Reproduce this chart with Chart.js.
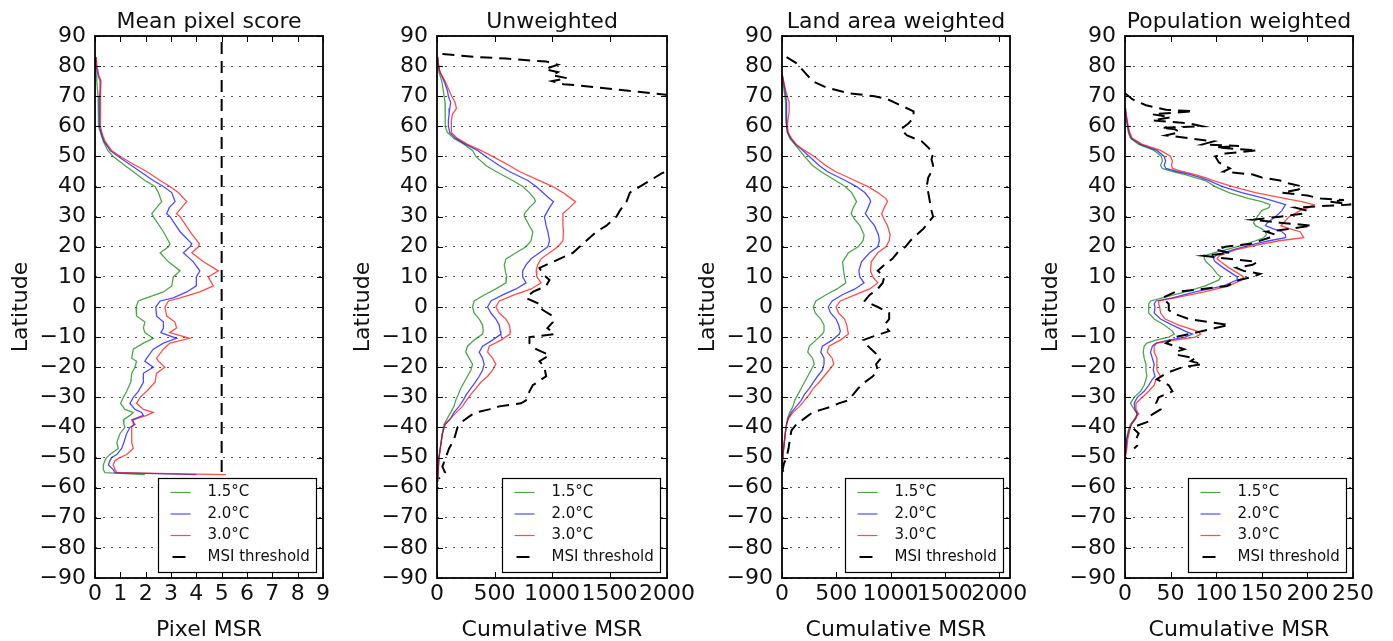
<!DOCTYPE html>
<html>
<head>
<meta charset="utf-8">
<script src="https://cdn.jsdelivr.net/npm/chart.js@4.4.1/dist/chart.umd.min.js"></script>
<style>
html, body { margin: 0; padding: 0; background: #fff; width: 1393px; height: 641px; overflow: hidden; }
canvas { position: absolute; top: 0; }
</style>
</head>
<body>
<canvas id="p1" width="370" height="641" style="left:0px"></canvas>
<canvas id="p2" width="370" height="641" style="left:342px"></canvas>
<canvas id="p3" width="370" height="641" style="left:687px"></canvas>
<canvas id="p4" width="363" height="641" style="left:1030px"></canvas>
<script>
const FONT = '"DejaVu Sans", "Liberation Sans", sans-serif';
const TXT = '#111';

const seriesNames = ['1.5°C', '2.0°C', '3.0°C', 'MSI threshold'];
const seriesColors = ['rgba(0,128,0,0.7)', 'rgba(0,0,255,0.7)', 'rgba(255,0,0,0.7)', '#000'];

const latTicks = [-90, -80, -70, -60, -50, -40, -30, -20, -10, 0, 10, 20, 30, 40, 50, 60, 70, 80, 90];
const xTicks1 = [0, 1, 2, 3, 4, 5, 6, 7, 8, 9];
const xTicks2 = [0, 500, 1000, 1500, 2000];
const xTicks3 = [0, 500, 1000, 1500, 2000];
const xTicks4 = [0, 50, 100, 150, 200, 250];

// Panel 1: mean pixel score
const lat1 = [83, 80, 77, 75, 72, 70, 65, 60, 57, 55, 52, 50, 47.5, 45, 42, 40, 38, 35, 33, 31, 30, 25, 21, 20, 18, 15, 12, 10, 7, 5, 3, 2, 0,
  -3, -5, -7, -8.5, -10.4, -12, -14, -17, -18, -20, -22, -25, -28, -30, -32, -34, -35, -36, -37.5, -39, -40, -42, -45, -47, -49, -50, -51, -52.5, -54, -55, -55.7];
const g1 = [0.02, 0.03, 0.05, 0.07, 0.1, 0.12, 0.13, 0.15, 0.25, 0.33, 0.5, 0.72, 1.1, 1.5, 1.97, 2.37, 2.5, 2.63, 2.43, 2.24, 2.3, 2.7, 2.96, 2.9, 2.57, 2.9, 3.36, 3.09, 3.03, 2.7, 2.04, 1.71, 1.62,
  1.64, 1.97, 1.91, 1.97, 2.3, 1.91, 1.51, 1.45, 1.64, 1.58, 1.45, 1.41, 1.25, 1.12, 1.01, 1.18, 1.51, 1.38, 1.12, 1.14, 1.18, 0.99, 0.86, 0.92, 0.59, 0.46, 0.39, 0.33, 0.33, 0.39, 1.97];
const b1 = [0.03, 0.05, 0.12, 0.2, 0.2, 0.18, 0.17, 0.18, 0.27, 0.36, 0.6, 0.92, 1.35, 1.78, 2.3, 2.7, 3.03, 3.16, 2.93, 2.83, 2.96, 3.36, 3.82, 3.75, 3.49, 3.88, 4.14, 4.0, 4.0, 3.62, 3.09, 2.57, 2.4,
  2.43, 2.7, 2.7, 2.6, 3.22, 2.7, 2.3, 2.04, 1.97, 2.3, 1.91, 1.91, 1.71, 1.51, 1.38, 1.58, 1.84, 1.91, 1.45, 1.58, 1.38, 1.25, 1.14, 1.05, 0.86, 0.66, 0.59, 0.53, 0.72, 0.79, 4.0];
const r1 = [0.05, 0.08, 0.15, 0.24, 0.22, 0.22, 0.2, 0.22, 0.3, 0.4, 0.65, 1.0, 1.5, 2.04, 2.57, 2.96, 3.29, 3.62, 3.42, 3.22, 3.36, 3.75, 4.12, 4.08, 3.82, 4.28, 4.87, 4.47, 4.67, 4.14, 3.36, 2.9, 2.76,
  2.83, 3.16, 3.22, 2.95, 3.73, 2.96, 2.7, 2.43, 2.5, 2.76, 2.43, 2.37, 2.04, 1.78, 1.64, 1.91, 2.3, 2.04, 1.51, 1.51, 1.45, 1.45, 1.45, 1.51, 1.25, 0.99, 0.79, 0.72, 0.79, 0.86, 5.17];
const msiLat1 = [88, -56];
const msi1 = [5, 5];

// Panel 2: unweighted cumulative
const lat2 = [83, 80, 78, 75, 72, 70, 68, 66, 64, 62, 60, 58, 56, 54, 52, 50, 47, 45, 42, 40, 38, 36, 35, 33, 31, 30, 27, 25, 22, 20, 18, 16, 14, 12, 10, 8, 6, 4, 2, 0,
  -2, -4, -6, -8, -9, -11, -13, -15, -17, -19, -21, -23, -25, -27, -29, -31, -33, -35, -37, -39, -42, -46, -50, -55, -58];
const g2 = [5, 10, 17, 41, 55, 61, 70, 70, 70, 70, 76, 90, 148, 236, 309, 338, 425, 512, 658, 745, 803, 847, 856, 803, 760, 760, 803, 833, 818, 774, 687, 600, 585, 594, 606, 600, 512, 410, 323, 309,
  323, 367, 396, 402, 396, 323, 265, 250, 279, 309, 294, 265, 236, 207, 186, 163, 148, 119, 90, 61, 47, 32, 17, 9, 6];
const b2 = [5, 15, 26, 61, 90, 99, 119, 111, 105, 99, 99, 111, 163, 250, 352, 425, 541, 629, 789, 862, 920, 978, 1013, 978, 949, 934, 949, 964, 978, 964, 891, 818, 774, 745, 745, 774, 687, 571, 469, 440,
  469, 512, 541, 550, 556, 483, 396, 367, 396, 410, 396, 367, 332, 294, 256, 227, 192, 148, 119, 70, 47, 32, 17, 9, 6];
const r2 = [5, 15, 26, 70, 105, 128, 157, 169, 134, 125, 122, 128, 178, 265, 381, 483, 629, 716, 891, 1007, 1095, 1167, 1205, 1153, 1095, 1095, 1095, 1100, 1095, 1051, 978, 905, 876, 862, 868, 905, 818, 672, 541, 512,
  541, 600, 629, 638, 635, 556, 454, 440, 483, 512, 483, 440, 381, 338, 294, 256, 221, 169, 119, 70, 47, 32, 17, 9, 6];
const msiLat2 = [84, 83, 82.5, 81.5, 80.5, 79, 78, 77, 76, 75, 74, 73.5, 72.5, 71.5, 70.5, 69, 46, 44.5, 42, 40, 38, 35, 32, 30, 27, 25, 22, 20, 18, 16, 14, 13, 11, 9, 7, 5, 3, 1, 0,
  -1, -3, -5, -7, -9, -10, -12, -14, -16, -18, -20, -23, -26, -28, -31, -32, -33, -34, -35, -36, -38, -40, -42, -44, -47, -50, -53, -55, -57];
const msi2 = [47, 350, 600, 950, 1050, 940, 1050, 1000, 1130, 1000, 1100, 1250, 1500, 1750, 1990, 2300, 2100, 1960, 1852, 1764, 1677, 1648, 1590, 1560, 1473, 1386, 1298, 1240, 1182, 1066, 949, 891, 920, 978, 949, 833, 774, 891, 891,
  920, 1007, 1007, 960, 1022, 804, 804, 862, 978, 891, 934, 949, 833, 804, 774, 731, 541, 454, 338, 294, 221, 178, 163, 148, 105, 76, 47, 70, 17];

// Panel 3: land area weighted cumulative
const lat3 = [77, 72, 70, 68, 65, 62, 60, 58, 56, 54, 52, 50, 47, 45, 42, 40, 38, 36, 35, 33, 31, 29, 27, 24, 22, 20, 18, 15, 12, 10, 8, 6, 4, 2, 0,
  -2, -4, -6, -8, -9, -11, -13, -15, -17, -19, -21, -23, -25, -27, -29, -31, -33, -35, -37, -39, -42, -46, -50, -55];
const g3 = [3, 18, 27, 33, 33, 36, 42, 48, 72, 117, 162, 207, 282, 357, 492, 582, 642, 672, 687, 657, 636, 672, 717, 756, 747, 702, 612, 558, 567, 576, 588, 507, 402, 312, 288,
  306, 357, 387, 387, 372, 312, 252, 237, 282, 297, 267, 237, 207, 177, 147, 117, 102, 72, 51, 42, 30, 18, 6, 3];
const b3 = [3, 27, 36, 42, 42, 42, 42, 51, 81, 126, 192, 252, 342, 417, 582, 687, 762, 807, 816, 792, 768, 807, 852, 888, 897, 882, 807, 732, 708, 717, 756, 672, 552, 462, 426,
  447, 498, 522, 537, 528, 462, 372, 357, 387, 387, 372, 327, 288, 252, 207, 177, 132, 87, 57, 42, 30, 18, 6, 3];
const r3 = [3, 33, 48, 66, 66, 54, 51, 57, 87, 132, 207, 297, 402, 492, 672, 792, 882, 957, 972, 942, 918, 942, 972, 996, 987, 957, 882, 822, 816, 837, 882, 807, 672, 537, 498,
  522, 576, 597, 606, 612, 537, 432, 417, 462, 477, 432, 387, 342, 288, 252, 207, 162, 102, 60, 42, 30, 18, 6, 3];
const msiLat3 = [83, 81, 78, 75, 73, 71, 70, 69, 67, 65, 63, 61, 59, 57, 55, 53, 51, 49, 47, 45, 43, 40, 38, 35, 32, 30, 28, 26, 24, 22, 20, 18, 16, 14, 12, 10, 8, 6, 4, 2, 0,
  -2, -4, -6, -8, -10, -11, -13, -15, -17, -19, -21, -23, -25, -27, -29, -31, -32, -33, -34, -35, -37, -39, -41, -44, -47, -50, -52, -54, -55];
const msi3 = [42, 132, 207, 282, 402, 612, 852, 972, 1092, 1212, 1212, 1167, 1092, 1152, 1287, 1347, 1392, 1377, 1392, 1377, 1347, 1332, 1347, 1362, 1377, 1392, 1347, 1302, 1242, 1182, 1137, 1062, 1017, 942, 882, 942, 927, 882, 807, 762, 882,
  987, 987, 942, 987, 822, 747, 792, 852, 912, 867, 882, 837, 762, 702, 657, 612, 522, 462, 372, 282, 207, 132, 87, 72, 60, 42, 18, 6, 15];

// Panel 4: population weighted cumulative
const lat4 = [66, 63, 61, 58, 56, 54, 52, 50, 48.5, 47, 46, 45, 44, 43, 42, 40, 38, 36, 35, 34, 33, 32, 30, 28, 27, 26, 25, 24, 23, 22, 20.5, 19, 18, 17, 16, 15, 13, 11, 10, 9, 7, 5, 3, 2, 1, 0,
  -2, -4, -6, -8, -9, -10, -11, -12, -13, -15, -17, -19, -21, -23, -24, -26, -28, -30, -32, -34, -35.5, -37, -39, -41, -44, -47, -50];
const g4 = [0, 1, 2, 3.6, 6, 15, 32, 40, 41, 39, 41, 52, 66, 77, 88, 99, 114, 136, 150, 159, 158, 150, 145, 141, 143, 150, 154, 155, 152, 143, 128, 110, 97, 87, 87, 89, 96, 101, 105, 103, 88, 66, 41, 28, 26, 26,
  26, 32, 43, 52, 54, 48, 34, 24, 21, 20, 21, 23, 23, 24, 23, 21, 17, 10, 6, 10, 13.5, 11, 6, 3.6, 1.5, 1, 0];
const b4 = [0, 1.5, 2.5, 4.4, 7, 17, 35, 43, 44.5, 43, 45, 57, 72, 83, 92, 107, 128, 154, 165, 176, 174, 172, 165, 156, 154, 162, 172, 176, 176, 158, 136, 118, 108, 99, 97, 99, 108, 118, 123, 123, 108, 77, 52, 34, 32, 33,
  32, 39, 52, 66, 74, 66, 48, 34, 30, 28, 30, 32, 31, 33, 30, 26, 21, 13.5, 10, 11, 13.5, 12, 7, 4.4, 2, 1.5, 0];
const r4 = [0, 2, 3, 5, 8, 19, 39, 50, 52, 51, 52, 63, 77, 88, 97, 118, 143, 176, 194, 207, 201, 192, 180, 174, 171, 180, 192, 194, 196, 169, 143, 121, 112, 103, 101, 105, 114, 125, 130, 128, 114, 87, 55, 37, 37, 38,
  39, 44, 59, 79, 83, 77, 55, 35, 32, 32, 35, 35, 35, 39, 34, 32, 26, 19, 12, 12, 15, 11, 7, 5, 3, 2, 0.5];
const msiLat4 = [71, 69, 68, 67, 65.5, 65, 64, 63, 62, 61, 60, 59.5, 59, 58, 57, 55, 54, 53.5, 53, 52, 51, 50, 48, 46, 45, 44, 43, 42, 41, 40, 39, 38, 37, 36, 35.5, 35, 34, 33.5, 33, 32, 31, 30, 29, 28, 27, 26, 25, 24, 23, 21, 20, 19, 18, 17, 16, 15, 14, 13, 12, 11, 10, 9, 7, 6, 5, 3, 1, 0,
  -1, -2, -4, -5, -6, -7, -9, -10, -12, -14, -15, -16, -17, -18, -19, -20, -22, -24, -26, -28, -30, -32, -34, -36, -38, -40, -42, -44, -46, -47];
const msi4 = [0, 8, 15, 23, 45, 75, 30, 50, 30, 70, 85, 40, 55, 60, 45, 97, 85, 125, 100, 145, 110, 99, 103, 115, 108, 140, 150, 170, 180, 195, 190, 172, 200, 215, 240, 225, 248, 215, 187, 200, 195, 170, 140, 170, 205, 182, 155, 165, 158, 138, 110, 100, 115, 86, 114, 145, 140, 122, 130, 148, 140, 125, 112, 85, 55, 41, 48, 48,
  48, 52, 70, 92, 114, 99, 70, 55, 45, 65, 55, 59, 77, 72, 85, 63, 45, 35, 48, 52, 37, 34, 39, 28, 26, 8, 15, 12, 13.5, 10];

function pts(lat, vals) {
  return vals.map((v, i) => ({ x: v, y: lat[i] }));
}

function fmtNum(v) {
  return v < 0 ? '\u2212' + Math.abs(v) : String(v);
}

// frame, inward ticks, title and an in-axes legend like matplotlib draws
const decor = {
  id: 'decor',
  afterDraw(chart) {
    const ctx = chart.ctx;
    const a = chart.chartArea;
    const xs = chart.scales.x, ys = chart.scales.y;
    ctx.save();
    ctx.strokeStyle = '#000';
    ctx.lineWidth = 1;
    ctx.beginPath();
    xs.ticks.forEach(t => {
      const px = Math.round(xs.getPixelForValue(t.value)) + 0.5;
      ctx.moveTo(px, a.bottom); ctx.lineTo(px, a.bottom - 6);
      ctx.moveTo(px, a.top); ctx.lineTo(px, a.top + 6);
    });
    ys.ticks.forEach(t => {
      const py = Math.round(ys.getPixelForValue(t.value)) + 0.5;
      ctx.moveTo(a.left, py); ctx.lineTo(a.left + 6, py);
      ctx.moveTo(a.right, py); ctx.lineTo(a.right - 6, py);
    });
    ctx.stroke();

    // legend box
    const w = 158, h = 94;
    const bx = Math.round(a.right - 7 - w) + 0.5, by = Math.round(a.bottom - 6 - h) + 0.5;
    ctx.fillStyle = '#fff';
    ctx.fillRect(bx, by, w, h);
    ctx.strokeStyle = '#000';
    ctx.lineWidth = 1.2;
    ctx.strokeRect(bx, by, w, h);
    ctx.font = '15px ' + FONT;
    ctx.textBaseline = 'middle';
    ctx.textAlign = 'left';
    seriesNames.forEach((name, i) => {
      const yy = by + 14 + i * 21.5;
      ctx.beginPath();
      ctx.strokeStyle = seriesColors[i];
      if (i === 3) {
        ctx.lineWidth = 2;
        ctx.moveTo(bx + 14, yy); ctx.lineTo(bx + 27, yy);
      } else {
        ctx.lineWidth = 1.2;
        ctx.moveTo(bx + 12, yy); ctx.lineTo(bx + 32, yy);
      }
      ctx.stroke();
      ctx.fillStyle = TXT;
      ctx.fillText(name, bx + 49, yy);
    });

    // frame
    ctx.strokeStyle = '#000';
    ctx.lineWidth = 1.8;
    ctx.strokeRect(a.left, a.top, a.right - a.left, a.bottom - a.top);

    // title
    ctx.fillStyle = TXT;
    ctx.font = '22px ' + FONT;
    ctx.textAlign = 'center';
    ctx.textBaseline = 'alphabetic';
    ctx.fillText(chart.options.plugins.decor.title, (a.left + a.right) / 2, 28);
    ctx.restore();
  }
};

function makePanel(id, p) {
  const line = (label, lat, vals, i) => ({
    label: label,
    data: pts(lat, vals),
    showLine: true,
    borderColor: seriesColors[i],
    borderWidth: i === 3 ? 2 : 1.3,
    borderDash: i === 3 ? [12, 7] : [],
    pointRadius: 0,
    fill: false,
    tension: 0,
    order: 3 - i
  });
  new Chart(document.getElementById(id), {
    type: 'scatter',
    data: {
      datasets: [
        line(seriesNames[0], p.lat, p.g, 0),
        line(seriesNames[1], p.lat, p.b, 1),
        line(seriesNames[2], p.lat, p.r, 2),
        line(seriesNames[3], p.msiLat, p.msi, 3)
      ]
    },
    options: {
      responsive: false,
      animation: false,
      events: [],
      layout: { padding: { left: 0, top: 36, right: p.rightPad, bottom: 0 } },
      plugins: {
        legend: { display: false },
        tooltip: { enabled: false },
        decor: { title: p.title }
      },
      scales: {
        x: {
          type: 'linear',
          min: 0,
          max: p.xMax,
          afterBuildTicks: s => { s.ticks = p.xTicks.map(v => ({ value: v })); },
          afterFit: s => { s.height = 63; },
          grid: { display: false, drawTicks: false },
          border: { display: false },
          ticks: {
            callback: v => fmtNum(v),
            color: TXT,
            font: { family: FONT, size: 22 },
            padding: 3,
            autoSkip: false,
            maxRotation: 0,
            minRotation: 0
          },
          title: {
            display: true,
            text: p.xTitle,
            color: TXT,
            font: { family: FONT, size: 22, lineHeight: 1 },
            padding: 0
          }
        },
        y: {
          type: 'linear',
          min: -90,
          max: 90,
          afterBuildTicks: s => { s.ticks = latTicks.map(v => ({ value: v })); },
          afterFit: s => { s.width = 95; },
          grid: { color: '#555', lineWidth: 1, drawTicks: false },
          border: { display: false, dash: [2, 6] },
          ticks: {
            callback: v => fmtNum(v),
            color: TXT,
            font: { family: FONT, size: 22 },
            padding: 9,
            autoSkip: false
          },
          title: {
            display: true,
            text: 'Latitude',
            color: TXT,
            font: { family: FONT, size: 22, lineHeight: 1.2 },
            padding: { top: 8, bottom: 0 }
          }
        }
      }
    },
    plugins: [decor]
  });
}

makePanel('p1', { title: 'Mean pixel score', xTitle: 'Pixel MSR', xMax: 9, xTicks: xTicks1, rightPad: 370 - 95 - 228,
  lat: lat1, g: g1, b: b1, r: r1, msiLat: msiLat1, msi: msi1 });
makePanel('p2', { title: 'Unweighted', xTitle: 'Cumulative MSR', xMax: 2000, xTicks: xTicks2, rightPad: 370 - 95 - 230,
  lat: lat2, g: g2, b: b2, r: r2, msiLat: msiLat2, msi: msi2 });
makePanel('p3', { title: 'Land area weighted', xTitle: 'Cumulative MSR', xMax: 2100, xTicks: xTicks3, rightPad: 370 - 95 - 228,
  lat: lat3, g: g3, b: b3, r: r3, msiLat: msiLat3, msi: msi3 });
makePanel('p4', { title: 'Population weighted', xTitle: 'Cumulative MSR', xMax: 250, xTicks: xTicks4, rightPad: 363 - 95 - 228,
  lat: lat4, g: g4, b: b4, r: r4, msiLat: msiLat4, msi: msi4 });
</script>
</body>
</html>
